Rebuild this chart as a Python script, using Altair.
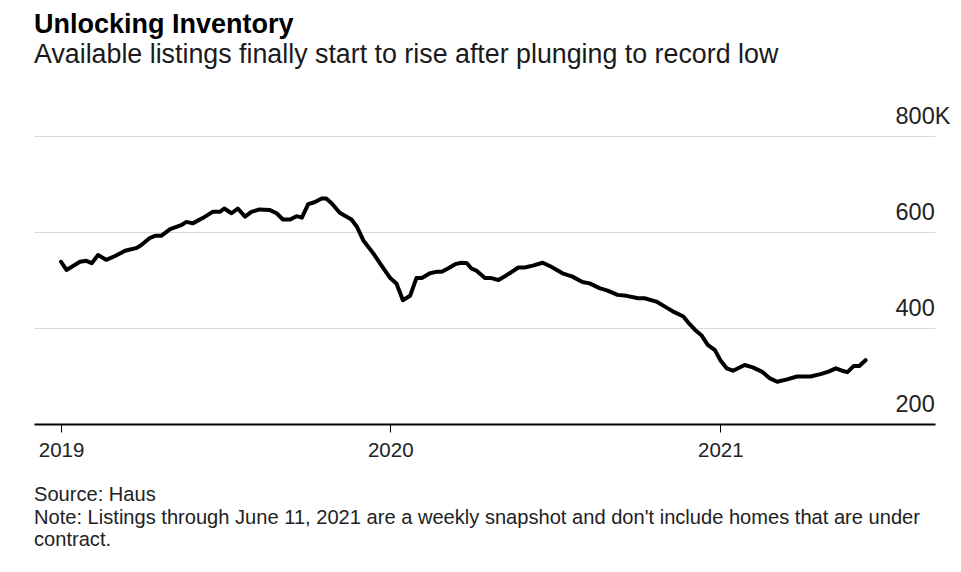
import altair as alt
import pandas as pd

# ---- data ----
dates = [
    "2019-01-01", "2019-01-07", "2019-01-22", "2019-01-29", "2019-02-04", "2019-02-11",
    "2019-02-20", "2019-03-02", "2019-03-13", "2019-03-26", "2019-03-31", "2019-04-09",
    "2019-04-15", "2019-04-22", "2019-05-02", "2019-05-15", "2019-05-20", "2019-05-27",
    "2019-06-07", "2019-06-18", "2019-06-26", "2019-07-01", "2019-07-09", "2019-07-16",
    "2019-07-24", "2019-07-31", "2019-08-09", "2019-08-20", "2019-08-28", "2019-09-04",
    "2019-09-12", "2019-09-19", "2019-09-25", "2019-10-02", "2019-10-09", "2019-10-17",
    "2019-10-22", "2019-10-28", "2019-11-06", "2019-11-19", "2019-11-25", "2019-12-02",
    "2019-12-13", "2019-12-22", "2020-01-01", "2020-01-08", "2020-01-15", "2020-01-23",
    "2020-01-30", "2020-02-05", "2020-02-14", "2020-02-21", "2020-02-27", "2020-03-05",
    "2020-03-13", "2020-03-20", "2020-03-26", "2020-03-31", "2020-04-06", "2020-04-15",
    "2020-04-22", "2020-04-30", "2020-05-09", "2020-05-22", "2020-05-29", "2020-06-07",
    "2020-06-18", "2020-06-27", "2020-07-10", "2020-07-21", "2020-08-01", "2020-08-09",
    "2020-08-20", "2020-08-29", "2020-09-09", "2020-09-19", "2020-10-02", "2020-10-09",
    "2020-10-22", "2020-11-02", "2020-11-11", "2020-11-21", "2020-11-28", "2020-12-04",
    "2020-12-11", "2020-12-18", "2020-12-26", "2021-01-01", "2021-01-08", "2021-01-15",
    "2021-01-28", "2021-02-06", "2021-02-17", "2021-02-25", "2021-03-05", "2021-03-16",
    "2021-03-27", "2021-04-11", "2021-04-22", "2021-05-01", "2021-05-09", "2021-05-16",
    "2021-05-22", "2021-05-29", "2021-06-04", "2021-06-11",
]
listings = [
    538, 521, 538, 540, 535, 552,
    542, 550, 561, 567, 573, 587,
    592, 592, 606, 615, 621, 618,
    629, 642, 642, 649, 639, 649,
    632, 642, 647, 646, 639, 626,
    626, 633, 630, 658, 662, 670,
    670, 660, 640, 626, 611, 583,
    556, 531, 504, 492, 458, 467,
    504, 504, 514, 517, 517, 524,
    533, 536, 535, 524, 519, 504,
    504, 500, 510, 526, 526, 530,
    536, 528, 514, 507, 496, 493,
    483, 478, 469, 467, 462, 462,
    455, 443, 433, 424, 408, 396,
    385, 365, 354, 333, 316, 311,
    323, 318, 308, 295, 288, 293,
    299, 299, 304, 309, 316, 311,
    308, 321, 321, 333,
]
y_ticks = [200, 400, 600, 800]
x_tick_years = [2019, 2020, 2021]

title_text = "Unlocking Inventory"
subtitle_text = "Available listings finally start to rise after plunging to record low"
footer_lines = [
    "Source: Haus",
    "Note: Listings through June 11, 2021 are a weekly snapshot and don't include homes that are under",
    "contract.",
]

FONT = "Liberation Sans"

df = pd.DataFrame({"date": dates, "listings": listings})
footer_df = pd.DataFrame({"note": ["\n".join(footer_lines)]})

x_enc = alt.X(
    "date:T",
    title=None,
    scale=alt.Scale(
        type="utc",
        domain=[alt.DateTime(year=2018, month=12, date=2, utc=True),
                alt.DateTime(year=2021, month=8, date=27, utc=True)],
    ),
    axis=alt.Axis(
        values=[alt.DateTime(year=y, month=1, date=1, utc=True) for y in x_tick_years],
        format="%Y",
        formatType="utc",
        grid=False,
        domainColor="#000000",
        domainWidth=2,
        tickColor="#000000",
        tickWidth=1,
        tickSize=8,
        labelFont=FONT,
        labelFontSize=20.5,
        labelColor="#222222",
        labelPadding=8,
        labelFlush=False,
        zindex=1,
    ),
)

y_enc = alt.Y(
    "listings:Q",
    title=None,
    scale=alt.Scale(domain=[200, 800], nice=False, zero=False),
    axis=alt.Axis(
        orient="right",
        values=y_ticks,
        grid=True,
        gridColor="#d9d9d9",
        gridWidth=1,
        domain=False,
        ticks=False,
        labelAlign="left",
        labelBaseline="alphabetic",
        labelPadding=-40,
        labelOffset=-13,
        labelFont=FONT,
        labelFontSize=23.5,
        labelColor="#222222",
        labelExpr="datum.value == 800 ? '800K' : datum.label",
    ),
)

line = alt.Chart(df).mark_line(
    color="#000000", strokeWidth=4, strokeJoin="round", strokeCap="round"
).encode(x=x_enc, y=y_enc)

footer = alt.Chart(footer_df).mark_text(
    align="left", baseline="alphabetic", lineBreak="\n", lineHeight=22.5,
    font=FONT, fontSize=20.1, color="#222222",
).encode(x=alt.value(0), y=alt.value(365), text="note:N")

chart = alt.layer(line, footer).properties(
    width=901,
    height=288,
    padding={"left": 26, "top": 128, "right": 18, "bottom": 140},
    autosize=alt.AutoSizeParams(type="none"),
    title=alt.Title(
        text=title_text,
        subtitle=subtitle_text,
        anchor="start",
        frame="bounds",
        font=FONT,
        fontSize=27,
        fontWeight="bold",
        color="#000000",
        subtitleFont=FONT,
        subtitleFontSize=26.8,
        subtitleColor="#1a1a1a",
        subtitlePadding=3,
        offset=34,
    ),
).configure_view(stroke=None)

chart.save("out.html", embed_options={"renderer": "svg", "actions": False})
